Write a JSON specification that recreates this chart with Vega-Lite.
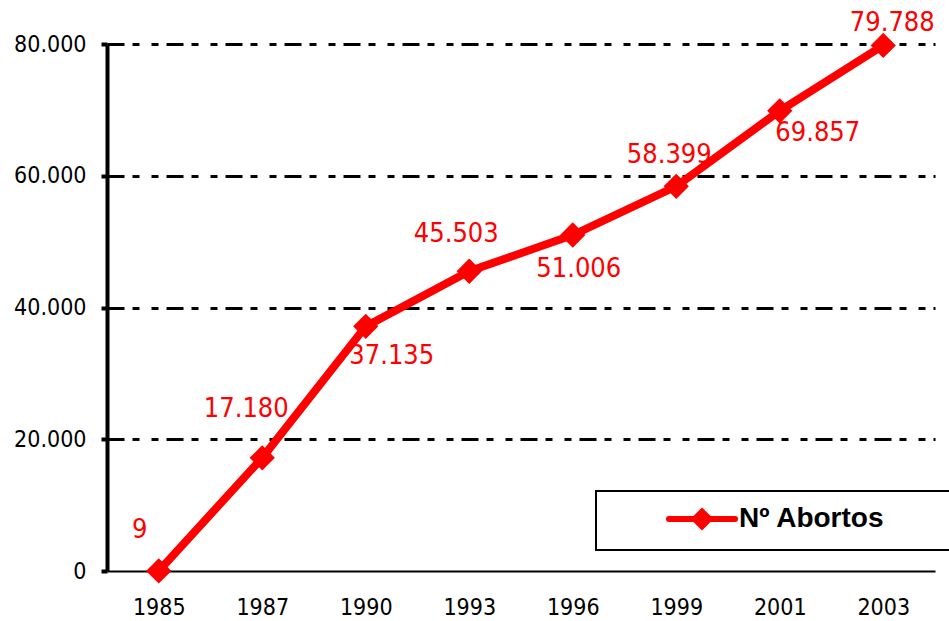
{
  "$schema": "https://vega.github.io/schema/vega-lite/v6.json",
  "width": 828,
  "height": 527,
  "autosize": "none",
  "padding": {"left": 107, "top": 44, "right": 14, "bottom": 50},
  "background": "white",
  "config": {
    "view": {"stroke": null},
    "font": "DejaVu Sans Condensed",
    "legend": {"strokeWidth": 2}
  },
  "data": {
    "values": [
      {"year": 1985, "abortos": 9, "label": "9", "serie": "Nº Abortos"},
      {"year": 1987, "abortos": 17180, "label": "17.180", "serie": "Nº Abortos"},
      {"year": 1990, "abortos": 37135, "label": "37.135", "serie": "Nº Abortos"},
      {"year": 1993, "abortos": 45503, "label": "45.503", "serie": "Nº Abortos"},
      {"year": 1996, "abortos": 51006, "label": "51.006", "serie": "Nº Abortos"},
      {"year": 1999, "abortos": 58399, "label": "58.399", "serie": "Nº Abortos"},
      {"year": 2001, "abortos": 69857, "label": "69.857", "serie": "Nº Abortos"},
      {"year": 2003, "abortos": 79788, "label": "79.788", "serie": "Nº Abortos"}
    ]
  },
  "encoding": {
    "x": {
      "field": "year",
      "type": "ordinal",
      "scale": {"type": "point", "padding": 0.5},
      "axis": {
        "title": null,
        "labelAngle": 0,
        "labelFont": "DejaVu Sans Condensed",
        "labelFontSize": 23,
        "labelColor": "black",
        "labelPadding": 25,
        "ticks": false,
        "domainColor": "black",
        "domainWidth": 2,
        "grid": false
      }
    },
    "y": {
      "field": "abortos",
      "type": "quantitative",
      "scale": {"domain": [0, 80000], "nice": false},
      "axis": {
        "title": null,
        "values": [0, 20000, 40000, 60000, 80000],
        "labelExpr": "replace(format(datum.value, ','), ',', '.')",
        "labelFont": "DejaVu Sans Condensed",
        "labelFontSize": 23,
        "labelColor": "black",
        "labelPadding": 15,
        "tickSize": 6,
        "tickWidth": 4,
        "tickColor": "black",
        "domainColor": "black",
        "domainWidth": 4,
        "grid": true,
        "gridColor": "black",
        "gridWidth": 3,
        "gridDash": [17, 8, 7, 12, 7, 8],
        "gridOpacity": {"condition": {"test": "datum.value === 0", "value": 0}, "value": 1}
      }
    }
  },
  "layer": [
    {
      "mark": {"type": "line", "strokeWidth": 8, "strokeJoin": "miter"},
      "encoding": {
        "color": {
          "field": "serie",
          "type": "nominal",
          "scale": {"range": ["#FF0000"]},
          "legend": {
            "title": null,
            "orient": "none",
            "legendX": 489,
            "legendY": 447,
            "strokeColor": "black",
            "fillColor": "white",
            "padding": 11,
            "symbolType": "M-2.36,0H2.36M0,-0.52L0.52,0L0,0.52L-0.52,0ZM16.5,0",
            "symbolSize": 784,
            "symbolStrokeWidth": 6,
            "symbolOffset": 78,
            "labelOffset": 20,
            "labelFont": "Liberation Sans",
            "labelFontWeight": "bold",
            "labelFontSize": 28,
            "labelColor": "black",
            "encode": {
              "symbols": {
                "update": {
                  "fill": {"value": "#FF0000"},
                  "stroke": {"value": "#FF0000"},
                  "strokeWidth": {"value": 6},
                  "strokeCap": {"value": "round"},
                  "opacity": {"value": 1}
                }
              }
            }
          }
        }
      }
    },
    {
      "mark": {"type": "point", "shape": "diamond", "filled": true, "size": 640, "color": "#FF0000", "opacity": 1}
    },
    {
      "transform": [{"filter": "datum.year == 1985"}],
      "mark": {"type": "text", "dx": -19, "dy": -41, "fontSize": 27, "font": "DejaVu Sans Condensed", "color": "#FF0000"},
      "encoding": {"text": {"field": "label"}}
    },
    {
      "transform": [{"filter": "datum.year == 1987"}],
      "mark": {"type": "text", "dx": -16, "dy": -49, "fontSize": 27, "font": "DejaVu Sans Condensed", "color": "#FF0000"},
      "encoding": {"text": {"field": "label"}}
    },
    {
      "transform": [{"filter": "datum.year == 1990"}],
      "mark": {"type": "text", "dx": 26, "dy": 30, "fontSize": 27, "font": "DejaVu Sans Condensed", "color": "#FF0000"},
      "encoding": {"text": {"field": "label"}}
    },
    {
      "transform": [{"filter": "datum.year == 1993"}],
      "mark": {"type": "text", "dx": -13, "dy": -37, "fontSize": 27, "font": "DejaVu Sans Condensed", "color": "#FF0000"},
      "encoding": {"text": {"field": "label"}}
    },
    {
      "transform": [{"filter": "datum.year == 1996"}],
      "mark": {"type": "text", "dx": 6, "dy": 34, "fontSize": 27, "font": "DejaVu Sans Condensed", "color": "#FF0000"},
      "encoding": {"text": {"field": "label"}}
    },
    {
      "transform": [{"filter": "datum.year == 1999"}],
      "mark": {"type": "text", "dx": -7, "dy": -31, "fontSize": 27, "font": "DejaVu Sans Condensed", "color": "#FF0000"},
      "encoding": {"text": {"field": "label"}}
    },
    {
      "transform": [{"filter": "datum.year == 2001"}],
      "mark": {"type": "text", "dx": 38, "dy": 22, "fontSize": 27, "font": "DejaVu Sans Condensed", "color": "#FF0000"},
      "encoding": {"text": {"field": "label"}}
    },
    {
      "transform": [{"filter": "datum.year == 2003"}],
      "mark": {"type": "text", "dx": 9, "dy": -22, "fontSize": 27, "font": "DejaVu Sans Condensed", "color": "#FF0000"},
      "encoding": {"text": {"field": "label"}}
    }
  ]
}
